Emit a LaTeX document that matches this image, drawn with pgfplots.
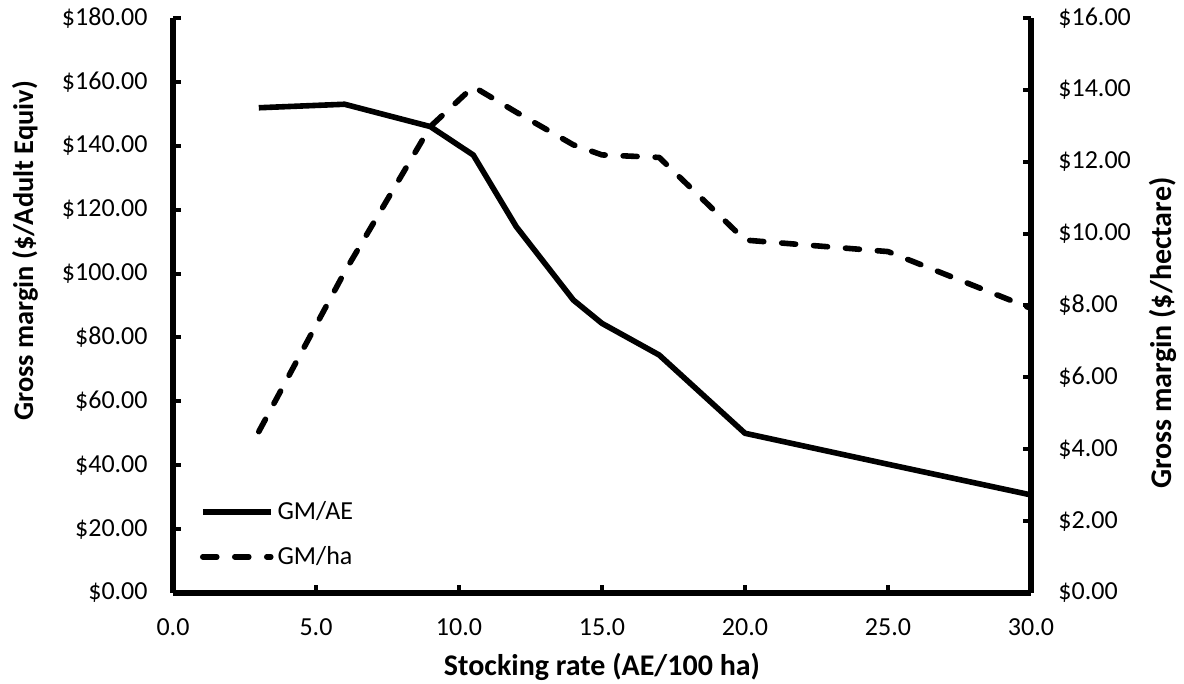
\documentclass[border=0pt]{standalone}
\usepackage{fontspec}
\setmainfont{Carlito}
\usepackage{pgfplots}
\pgfplotsset{compat=1.18}

\pgfplotsset{
  common/.style={
    scale only axis, width=429pt, height=287.5pt,
    xmin=0, xmax=30, ymin=0,
    font=\fontsize{15pt}{18pt}\selectfont,
    tick label style={font=\fontsize{13pt}{15.6pt}\selectfont},
    tick align=inside, major tick length=4pt,
    tick style={line width=2pt, black},
    axis line style={line width=3pt},
    /pgf/number format/assume math mode=true,
    yticklabel={\$\pgfmathprintnumber[fixed,fixed zerofill,precision=2]{\tick}},
  },
  gmline/.style={black, line width=2.8pt, line join=round},
  gmdash/.style={gmline, dash pattern=on 7pt off 9pt, line cap=round},
}

\begin{document}
\begin{tikzpicture}
\begin{axis}[common,
  ymax=180, ytick={0,20,...,180},
  axis y line*=left, axis x line*=bottom,
  xtick={0,5,...,30},
  xticklabel={\pgfmathprintnumber[fixed,fixed zerofill,precision=1]{\tick}},
  xticklabel style={anchor=center, yshift=-17pt},
  yticklabel style={anchor=east, inner sep=0pt, xshift=-12.5pt},
  xlabel={\textbf{Stocking rate (AE/100 ha)}},
  ylabel={\textbf{Gross margin (\$/Adult Equiv)}},
  xlabel style={at={(axis description cs:0.5,0)}, anchor=center, yshift=-37pt},
  ylabel style={at={(axis description cs:-0.1725,0.595)}, anchor=center,
    font=\fontsize{14.2pt}{17pt}\selectfont},
  legend style={draw=none, fill=none, at={(0.024,0.03)}, anchor=south west,
    row sep=8pt, font=\fontsize{13pt}{15.6pt}\selectfont},
  legend cell align=left,
  legend image code/.code={\draw[#1] (0pt,0pt) -- (34pt,0pt);},
]
\addplot[gmline] coordinates {
  (3,151.9) (6,153.0) (9,146.0) (10.5,137.1) (12,114.7) (14,91.7)
  (15,84.4) (17,74.5) (20,50.0) (25,40.3) (30,30.7)
};
\addlegendentry{GM/AE}
\addlegendimage{gmdash}
\addlegendentry{GM/ha}
\end{axis}
\begin{axis}[common,
  ymax=16, ytick={0,2,...,16},
  axis y line*=right, axis x line=none,
  yticklabel style={anchor=west, inner sep=0pt, xshift=13.5pt},
  ylabel={\textbf{Gross margin (\$/hectare)}},
  ylabel style={at={(axis description cs:1.154,0.452)}, anchor=center},
]
\addplot[gmdash] coordinates {
  (3,4.49) (6,8.93) (9,12.98) (10.5,14.09) (12,13.38) (14,12.47)
  (15,12.19) (17,12.12) (20,9.82) (25,9.50) (30,7.92)
};
\end{axis}
\pgfresetboundingbox
\path (-86.5pt,-45.5pt) rectangle (505.5pt,296.5pt);
\end{tikzpicture}
\end{document}
